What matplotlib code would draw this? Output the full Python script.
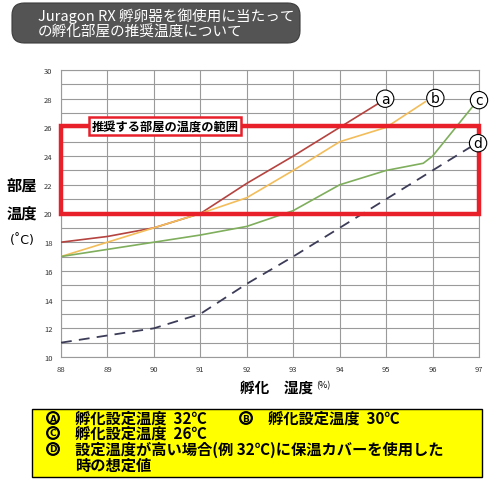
import matplotlib
matplotlib.use("Agg")
import matplotlib.pyplot as plt
from matplotlib.patches import FancyBboxPatch, Rectangle

plt.rcParams['font.family'] = ['Noto Sans CJK JP', 'DejaVu Sans']

# Data (humidity %, room temperature °C)
x_a = [88, 89, 90, 91, 92, 93, 94, 94.85]
y_a = [18, 18.4, 19, 20, 22.1, 24, 26, 27.7]
x_b = [88, 89, 90, 91, 92, 93, 94, 95, 95.85]
y_b = [17, 18, 19, 20, 21.1, 23, 25, 26, 27.8]
x_c = [88, 89, 90, 91, 92, 93, 94, 95, 95.8, 96, 96.9]
y_c = [17, 17.5, 18, 18.5, 19.1, 20.2, 22, 23, 23.5, 24, 27.6]
x_d = [88, 89, 90, 91, 92, 93, 94, 95, 96, 96.85]
y_d = [11, 11.5, 12, 13, 15.1, 17, 19, 21, 23, 24.7]
range_low, range_high = 20, 26.1
xticks = list(range(88, 98))
yticks = list(range(10, 31, 2))
labels = ['a', 'b', 'c', 'd']
label_pos = [(94.98, 28), (96.06, 28.05), (97.0, 27.9), (96.98, 24.9)]

W, H = 495, 485
fig = plt.figure(figsize=(W / 100, H / 100), dpi=100)

def fx(px):
    return px / W

def fy(py):
    return 1 - py / H

ax = fig.add_axes([fx(61), fy(358), fx(479) - fx(61), fy(71) - fy(358)])
ax.set_xlim(88, 97)
ax.set_ylim(10, 30)
ax.set_xticks(xticks)
ax.set_yticks(yticks)
ax.set_yticks(range(10, 31), minor=True)
ax.tick_params(which='both', length=0, labelsize=5.5, labelcolor='#333333', pad=6)
ax.grid(True, which='major', color='#9a9a9a', lw=0.8)
ax.grid(True, which='minor', axis='y', color='#9a9a9a', lw=0.8)
for s in ax.spines.values():
    s.set_color('#9a9a9a')
    s.set_linewidth(0.8)
ax.set_axisbelow(True)

ax.plot(x_a, y_a, color='#b5433f', lw=1.2, zorder=3)
ax.plot(x_b, y_b, color='#f2bd5a', lw=1.2, zorder=3)
ax.plot(x_c, y_c, color='#7fae5c', lw=1.2, zorder=3)
ax.plot(x_d, y_d, color='#3c3c58', lw=1.3, ls=(0, (6, 4)), zorder=3)

rect = Rectangle((88, range_low), 9, range_high - range_low, fill=False,
                 edgecolor='#e8202a', lw=3.2, zorder=4, clip_on=False)
ax.add_patch(rect)
ax.text(90.24, 26.1, '推奨する部屋の温度の範囲', fontsize=8.8, fontweight='bold',
        ha='center', va='center', color='black', zorder=6,
        bbox=dict(boxstyle='square,pad=0.2', fc='white', ec='#e8202a', lw=1.8))

for lab, (lx, ly) in zip(labels, label_pos):
    ax.text(lx, ly, lab, fontsize=10, ha='center', va='center', color='black',
            family='DejaVu Sans', zorder=7, clip_on=False,
            bbox=dict(boxstyle='circle,pad=0.12', fc='white', ec='black', lw=0.8))

# axis labels
fig.text(fx(22), fy(186), '部屋', fontsize=11, fontweight='bold', ha='center', va='center')
fig.text(fx(22), fy(214), '温度', fontsize=11, fontweight='bold', ha='center', va='center')
fig.text(fx(22), fy(241), '(˚C)', fontsize=9, ha='center', va='center', family='DejaVu Sans')
fig.text(fx(240), fy(388), '孵化　湿度', fontsize=10.5, fontweight='bold',
         ha='left', va='center')
fig.text(fx(316), fy(386), '(%)', fontsize=6.5, ha='left', va='center')

# title box
tb = FancyBboxPatch((fx(12), fy(44)), fx(300) - fx(12), fy(4) - fy(44),
                    boxstyle='round,pad=0,rounding_size=0.025', transform=fig.transFigure,
                    fc='#545454', ec='#3c3c3c', lw=0.8)
fig.patches.append(tb)
fig.text(fx(38), fy(16), 'Juragon RX 孵卵器を御使用に当たって', fontsize=10.5, color='white',
         ha='left', va='center')
fig.text(fx(38), fy(33), 'の孵化部屋の推奨温度について', fontsize=10.5, color='white',
         ha='left', va='center')

# legend box
lb = Rectangle((fx(32), fy(478)), fx(482) - fx(32), fy(410) - fy(478),
               transform=fig.transFigure, fc='#ffff00', ec='black', lw=1.0)
fig.patches.append(lb)
items = [
    (419, 53, 'A', 75, '孵化設定温度  32℃'),
    (419, 246, 'B', 268, '孵化設定温度  30℃'),
    (434, 53, 'C', 75, '孵化設定温度  26℃'),
    (450, 53, 'D', 75, '設定温度が高い場合(例 32℃)に保温カバーを使用した'),
    (466, None, None, 75, '時の想定値'),
]
for py, cx, c, tx, t in items:
    if c:
        fig.text(fx(cx), fy(py), c, fontsize=6.5, fontweight='bold', ha='center',
                 va='center', family='DejaVu Sans',
                 bbox=dict(boxstyle='circle,pad=0.15', fc='none', ec='black', lw=1.6))
    fig.text(fx(tx), fy(py), t, fontsize=11, fontweight='bold', ha='left', va='center')

fig.savefig('out.png', dpi=100)
